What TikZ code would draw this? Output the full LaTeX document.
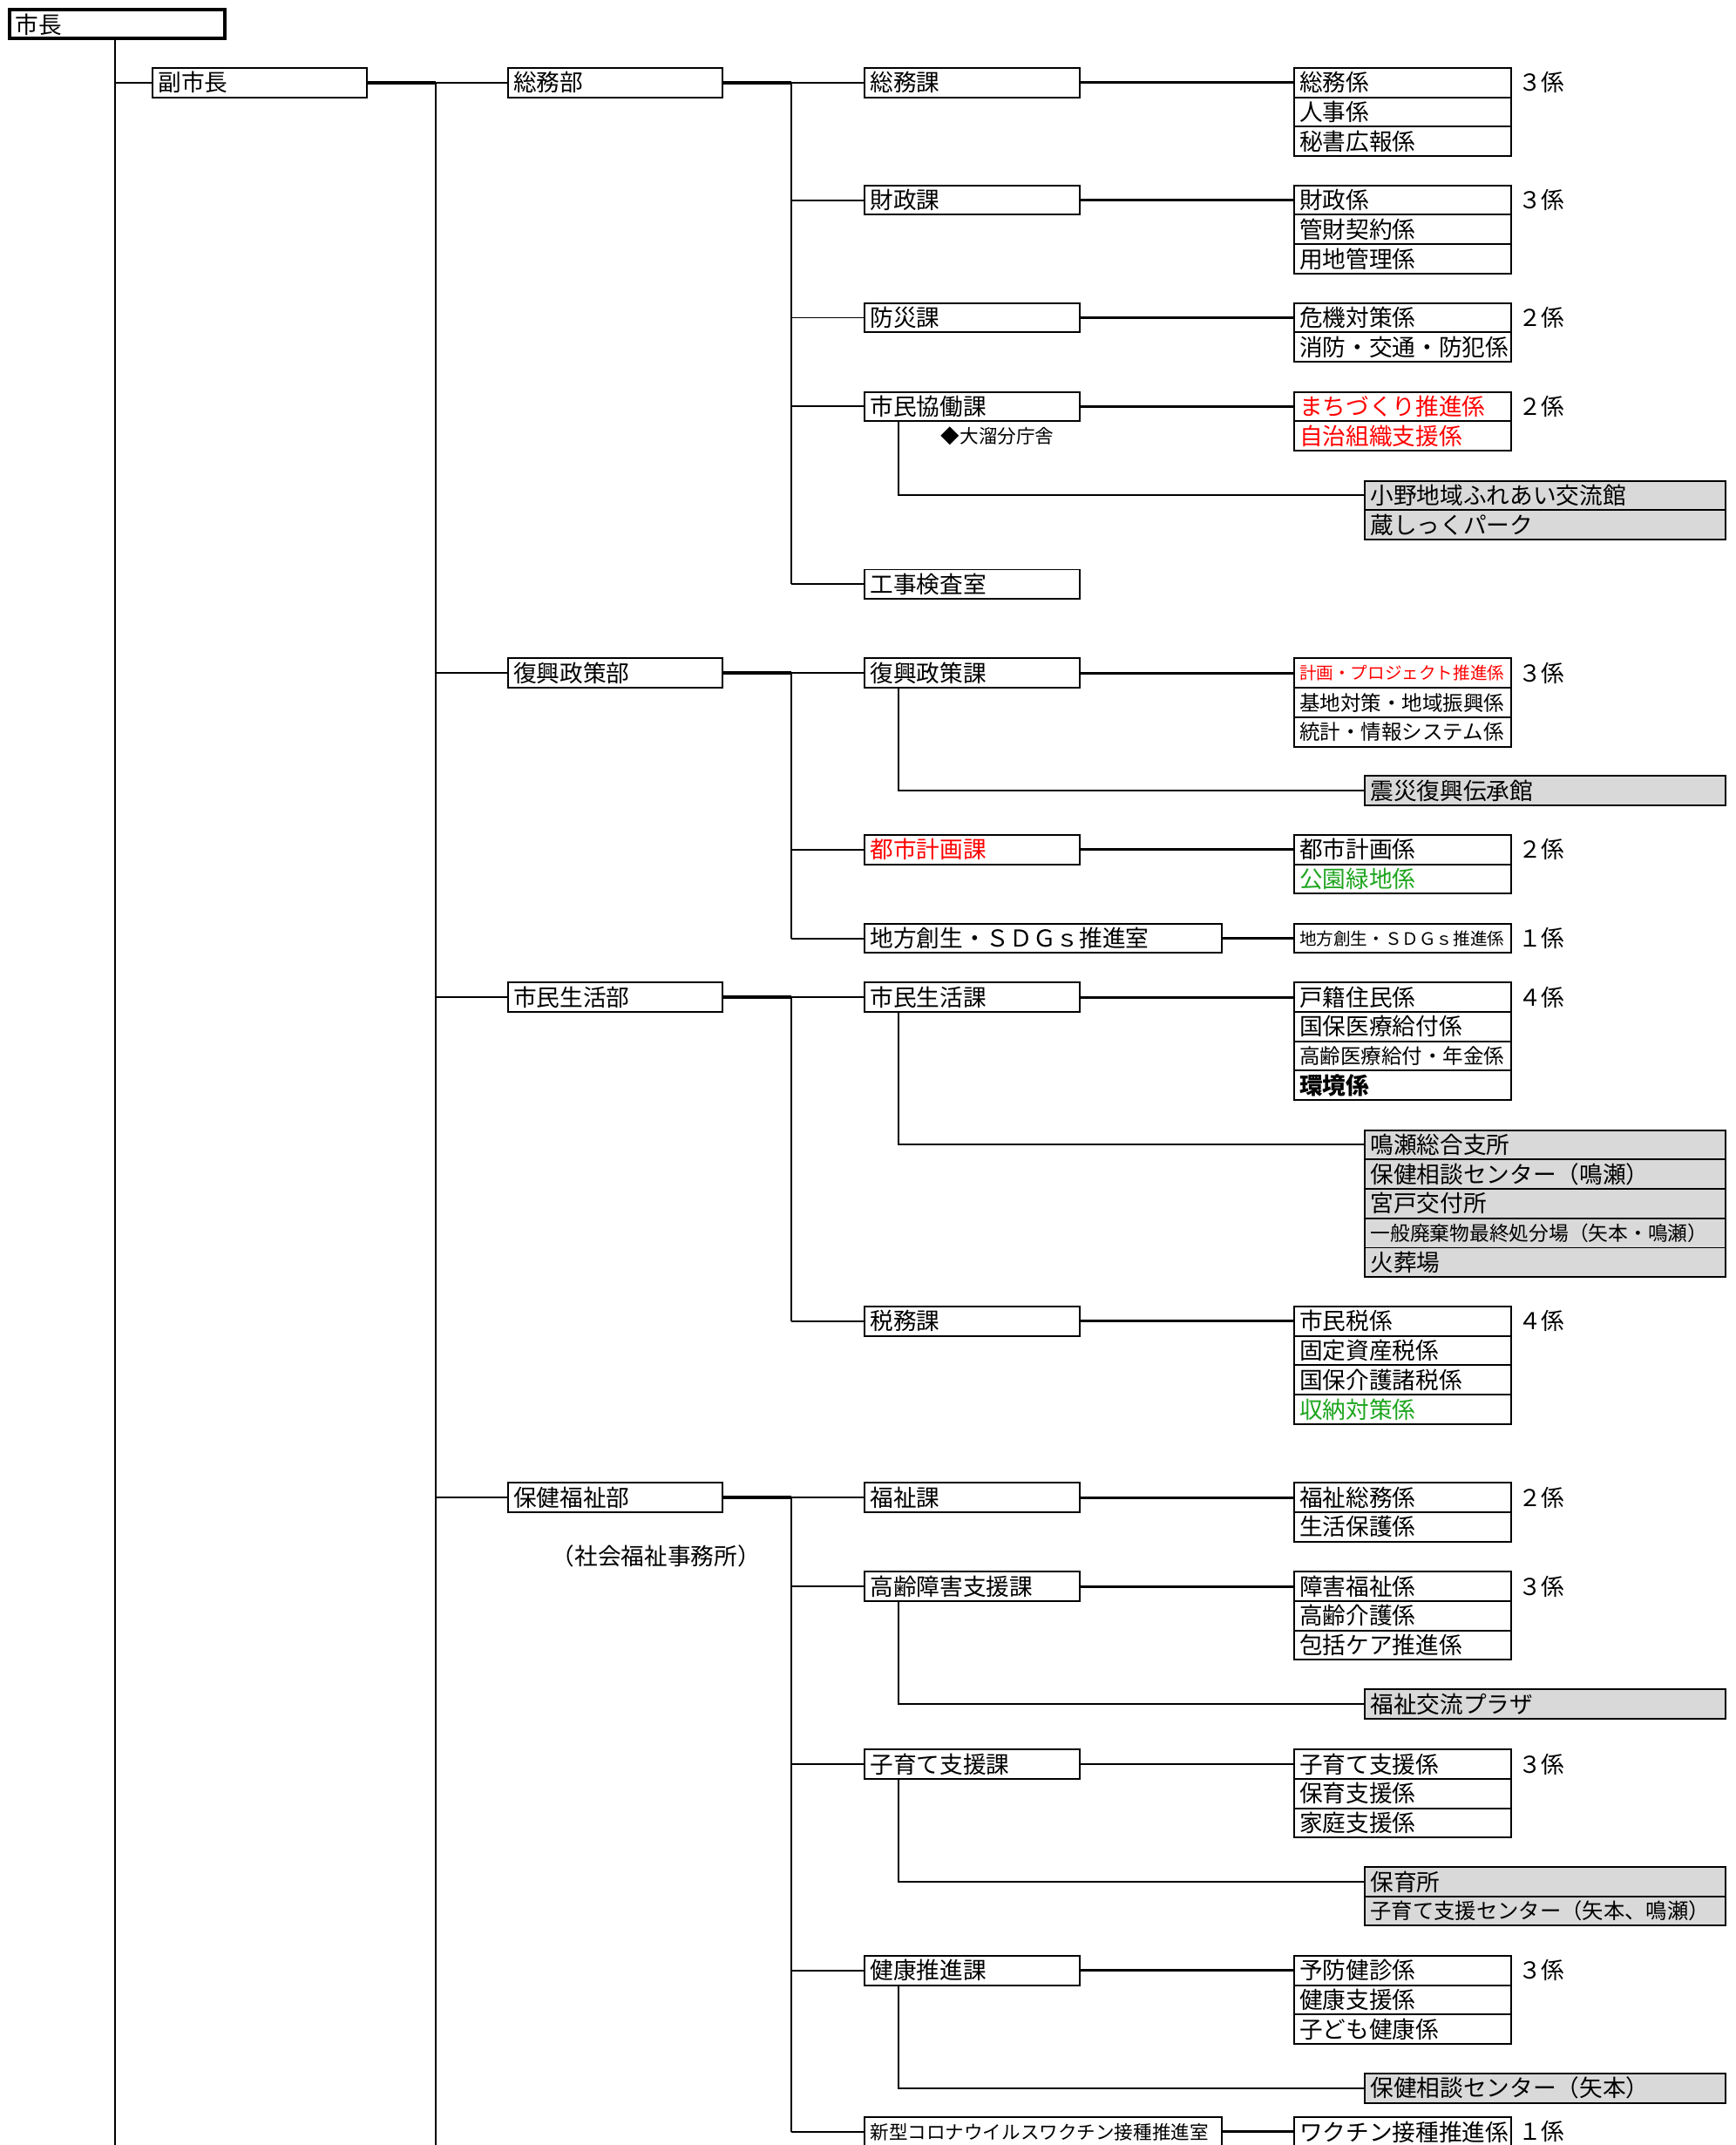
\documentclass[tikz,border=0pt]{standalone}
\usepackage{fontspec}
\setmainfont{Noto Sans CJK JP}
\usetikzlibrary{positioning,calc}
\definecolor{facgray}{RGB}{217,217,217}
\definecolor{kgreen}{RGB}{30,165,30}

\begin{document}
\begin{tikzpicture}[x=0.4pt,y=-0.4pt,every node/.style={anchor=north west}]
    \tikzstyle{bu}=[draw, line width=.5pt, inner xsep=1.6pt, inner ysep=0pt, minimum height=8.6pt, text width=59.6pt, align=left, font=\fontsize{6.8}{8}\selectfont]
    \tikzstyle{chief}=[bu, line width=1pt, minimum height=8.4pt]
    \tikzstyle{wide}=[bu, text width=101.2pt]
    \tikzstyle{kakari}=[bu, text width=60.4pt]
    \tikzstyle{shisetsu}=[bu, fill=facgray, text width=102.4pt]
    \tikzstyle{kazu}=[inner sep=0pt, font=\fontsize{6.8}{8}\selectfont]
    \tikzstyle{memo}=[inner sep=0pt, anchor=west, font=\fontsize{5.5}{6}\selectfont]
    \tikzstyle{trunk}=[line width=.5pt]
    \tikzstyle{link}=[line width=.75pt]
    \tikzstyle{heavy}=[line width=1pt]

    \useasboundingbox (0,0) rectangle (1270,1569);

    % 市長・副市長
    \node[chief] (shicho) at (6,6) {市長};
    \node[bu]    (fuku)   at (111,49) {副市長};
    \coordinate (trunkA) at (84,1569);
    \coordinate (trunkB) at (319,1569);
    \coordinate (bus) at (579,0);
    \draw[trunk] (trunkA |- shicho.south) -- (trunkA);
    \draw[trunk] (trunkA |- fuku.west) -- (fuku.west);
    \draw[heavy] (fuku.east) -- (fuku.east -| trunkB);
    \draw[trunk] (trunkB |- fuku.east) -- (trunkB);

    % 部
    \node[bu] (somu)     at (371,49)   {総務部};
    \node[bu] (fukko)    at (371,481)  {復興政策部};
    \node[bu] (seikatsu) at (371,718)  {市民生活部};
    \node[bu] (hoken)    at (371,1084) {保健福祉部};
    \node[memo] (jimusho) at (403,1138) {\fontsize{6.8}{8}\selectfont （社会福祉事務所）};
    \foreach \b in {somu,fukko,seikatsu,hoken}
      \draw[trunk] (trunkB |- \b.west) -- (\b.west);

    % 課
    \node[bu] (somuka)     at (632,49)   {総務課};
    \node[bu] (zaisei)     at (632,135)  {財政課};
    \node[bu] (bosai)      at (632,221)  {防災課};
    \node[bu] (kyodo)      at (632,286)  {市民協働課};
    \node[bu] (kouji)      at (632,416)  {工事検査室};
    \node[bu] (fukkoka)    at (632,481)  {復興政策課};
    \node[bu] (toshi)      at (632,610)  {\color{red}都市計画課};
    \node[wide] (sdgs)     at (632,675)  {地方創生・ＳＤＧｓ推進室};
    \node[bu] (seikatsuka) at (632,718)  {市民生活課};
    \node[bu] (zeimu)      at (632,955)  {税務課};
    \node[bu] (fukushi)    at (632,1084) {福祉課};
    \node[bu] (koureika)   at (632,1149) {高齢障害支援課};
    \node[bu] (kosodate)   at (632,1279) {子育て支援課};
    \node[bu] (kenko)      at (632,1430) {健康推進課};
    \node[wide] (corona)   at (632,1548) {\fontsize{5.5}{6}\selectfont 新型コロナウイルスワクチン接種推進室};
    \node[memo] (bunchosha) at (688,319) {◆大溜分庁舎};

    \draw[heavy] (somu.east) -- (somu.east -| bus);
    \draw[trunk] (somuka.west -| bus) -- (kouji.west -| bus);
    \foreach \k in {somuka,zaisei,bosai,kyodo,kouji}
      \draw[trunk] (bus |- \k.west) -- (\k.west);
    \draw[heavy] (fukko.east) -- (fukko.east -| bus);
    \draw[trunk] (fukkoka.west -| bus) -- (sdgs.west -| bus);
    \foreach \k in {fukkoka,toshi,sdgs}
      \draw[trunk] (bus |- \k.west) -- (\k.west);
    \draw[heavy] (seikatsu.east) -- (seikatsu.east -| bus);
    \draw[trunk] (seikatsuka.west -| bus) -- (zeimu.west -| bus);
    \foreach \k in {seikatsuka,zeimu}
      \draw[trunk] (bus |- \k.west) -- (\k.west);
    \draw[heavy] (hoken.east) -- (hoken.east -| bus);
    \draw[trunk] (fukushi.west -| bus) -- (corona.west -| bus);
    \foreach \k in {fukushi,koureika,kosodate,kenko,corona}
      \draw[trunk] (bus |- \k.west) -- (\k.west);

    % 係
    \foreach \t [count=\i] in {総務係,人事係,秘書広報係}
      \node[kakari] (somuka-\i) at (946,{49+21.5*(\i-1)}) {\t};
    \foreach \t [count=\i] in {財政係,管財契約係,用地管理係}
      \node[kakari] (zaisei-\i) at (946,{135+21.5*(\i-1)}) {\t};
    \foreach \t [count=\i] in {危機対策係,消防・交通・防犯係}
      \node[kakari] (bosai-\i) at (946,{221+21.5*(\i-1)}) {\t};
    \foreach \t [count=\i] in {{\color{red}まちづくり推進係},{\color{red}自治組織支援係}}
      \node[kakari] (kyodo-\i) at (946,{286+21.5*(\i-1)}) {\t};
    \foreach \t [count=\i] in {{\fontsize{5}{6}\selectfont\color{red}計画・プロジェクト推進係},{\fontsize{6}{7}\selectfont 基地対策・地域振興係},{\fontsize{6}{7}\selectfont 統計・情報システム係}}
      \node[kakari] (fukkoka-\i) at (946,{481+21.5*(\i-1)}) {\t};
    \foreach \t [count=\i] in {都市計画係,{\color{kgreen}公園緑地係}}
      \node[kakari] (toshi-\i) at (946,{610+21.5*(\i-1)}) {\t};
    \node[kakari] (sdgs-1) at (946,675) {\fontsize{5}{6}\selectfont 地方創生・ＳＤＧｓ推進係};
    \foreach \t [count=\i] in {戸籍住民係,国保医療給付係,{\fontsize{6}{7}\selectfont 高齢医療給付・年金係},{\bfseries 環境係}}
      \node[kakari] (seikatsuka-\i) at (946,{718+21.5*(\i-1)}) {\t};
    \foreach \t [count=\i] in {市民税係,固定資産税係,国保介護諸税係,{\color{kgreen}収納対策係}}
      \node[kakari] (zeimu-\i) at (946,{955+21.5*(\i-1)}) {\t};
    \foreach \t [count=\i] in {福祉総務係,生活保護係}
      \node[kakari] (fukushi-\i) at (946,{1084+21.5*(\i-1)}) {\t};
    \foreach \t [count=\i] in {障害福祉係,高齢介護係,包括ケア推進係}
      \node[kakari] (koureika-\i) at (946,{1149+21.5*(\i-1)}) {\t};
    \foreach \t [count=\i] in {子育て支援係,保育支援係,家庭支援係}
      \node[kakari] (kosodate-\i) at (946,{1279+21.5*(\i-1)}) {\t};
    \foreach \t [count=\i] in {予防健診係,健康支援係,子ども健康係}
      \node[kakari] (kenko-\i) at (946,{1430+21.5*(\i-1)}) {\t};
    \node[kakari] (corona-1) at (946,1548) {ワクチン接種推進係};

    \foreach \k/\n in {somuka/３,zaisei/３,bosai/２,kyodo/２,fukkoka/３,toshi/２,sdgs/１,seikatsuka/４,zeimu/４,fukushi/２,koureika/３,kosodate/３,kenko/３,corona/１}{
      \draw[link] (\k.east) -- (\k-1.west);
      \node[kazu, right=1.6pt of \k-1] {\n 係};
    }

    % 出先施設
    \foreach \t [count=\i] in {小野地域ふれあい交流館,蔵しっくパーク}
      \node[shisetsu] (ono-\i) at (998,{351+21.5*(\i-1)}) {\t};
    \node[shisetsu] (denshokan-1) at (998,567) {震災復興伝承館};
    \foreach \t [count=\i] in {鳴瀬総合支所,保健相談センター（鳴瀬）,宮戸交付所,{\fontsize{5.8}{7}\selectfont 一般廃棄物最終処分場（矢本・鳴瀬）},火葬場}
      \node[shisetsu] (naruse-\i) at (998,{826+21.5*(\i-1)}) {\t};
    \node[shisetsu] (plaza-1) at (998,1235) {福祉交流プラザ};
    \foreach \t [count=\i] in {保育所,{\fontsize{6.2}{7}\selectfont 子育て支援センター（矢本、鳴瀬）}}
      \node[shisetsu] (hoiku-\i) at (998,{1365+21.5*(\i-1)}) {\t};
    \node[shisetsu] (soudan-1) at (998,1516) {保健相談センター（矢本）};

    \foreach \k/\f in {kyodo/ono,fukkoka/denshokan,seikatsuka/naruse,koureika/plaza,kosodate/hoiku,kenko/soudan}
      \draw[trunk] ([xshift=10pt]\k.south west) |- (\f-1.west);

\end{tikzpicture}
\end{document}
